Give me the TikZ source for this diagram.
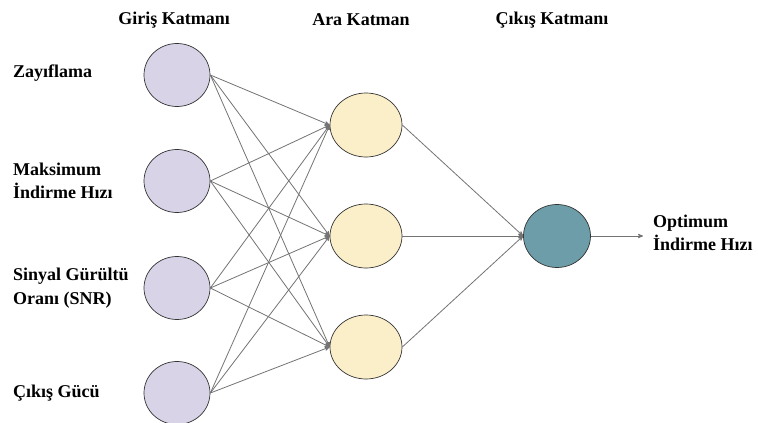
\documentclass[tikz,border=0pt]{standalone}
\usepackage{fontspec}
\setmainfont{Liberation Serif}
\usetikzlibrary{arrows,shapes.geometric,positioning}

\begin{document}
\begin{tikzpicture}[x=1pt,y=-1pt,>=stealth',
    neuron/.style={ellipse,draw=black!80,line width=0.7pt,inner sep=0pt},
    inputnode/.style={neuron,fill={rgb,255:red,217;green,211;blue,232},minimum width=66pt,minimum height=63pt},
    hiddennode/.style={neuron,fill={rgb,255:red,251;green,239;blue,201},minimum width=72pt,minimum height=64pt},
    outputnode/.style={neuron,fill={rgb,255:red,108;green,157;blue,168},minimum width=67pt,minimum height=63pt},
    txt/.style={font=\fontsize{18}{23.5}\selectfont\bfseries,align=left,inner sep=0pt},
    link/.style={draw=black!55,line width=0.8pt}]

                \useasboundingbox (0,0) rectangle (758,423);

                % headers
                \node[txt] (hin) at (174,20) {Giriş Katmanı};
                \node[txt] (hhid) at (361,20) {Ara Katman};
                \node[txt] (hout) at (552,20) {Çıkış Katmanı};

                % layers
                \node[inputnode] (in1) at (177,75) {};
                \node[inputnode] (in2) at (177,181) {};
                \node[inputnode] (in3) at (177,288) {};
                \node[inputnode] (in4) at (177,393) {};

                \node[hiddennode] (h1) at (366,125) {};
                \node[hiddennode] (h2) at (366,236) {};
                \node[hiddennode] (h3) at (366,347) {};

                \node[outputnode] (out) at (557,236) {};
                \coordinate (res) at (643,236);

                % labels
                \node[txt,anchor=west] (l1) at (13,73) {Zayıflama};
                \node[txt,anchor=west] (l2) at (13,181) {Maksimum\\İndirme Hızı};
                \node[txt,anchor=west] (l3) at (13,288) {Sinyal Gürültü\\Oranı (SNR)};
                \node[txt,anchor=west] (l4) at (13,393) {Çıkış Gücü};
                \node[txt,anchor=west] (lout) at (653,233) {Optimum\\İndirme Hızı};

                \path[->] (in1.east) edge[link] (h1.west)
                                     edge[link] (h2.west)
                                     edge[link] (h3.west)
                          (in2.east) edge[link] (h1.west)
                                     edge[link] (h2.west)
                                     edge[link] (h3.west)
                          (in3.east) edge[link] (h1.west)
                                     edge[link] (h2.west)
                                     edge[link] (h3.west)
                          (in4.east) edge[link] (h1.west)
                                     edge[link] (h2.west)
                                     edge[link] (h3.west);

                \path[->] (h1.east) edge[link] (out.west)
                          (h2.east) edge[link] (out.west)
                          (h3.east) edge[link] (out.west)
                          (out.east) edge[link] (res);

            \end{tikzpicture}
\end{document}
